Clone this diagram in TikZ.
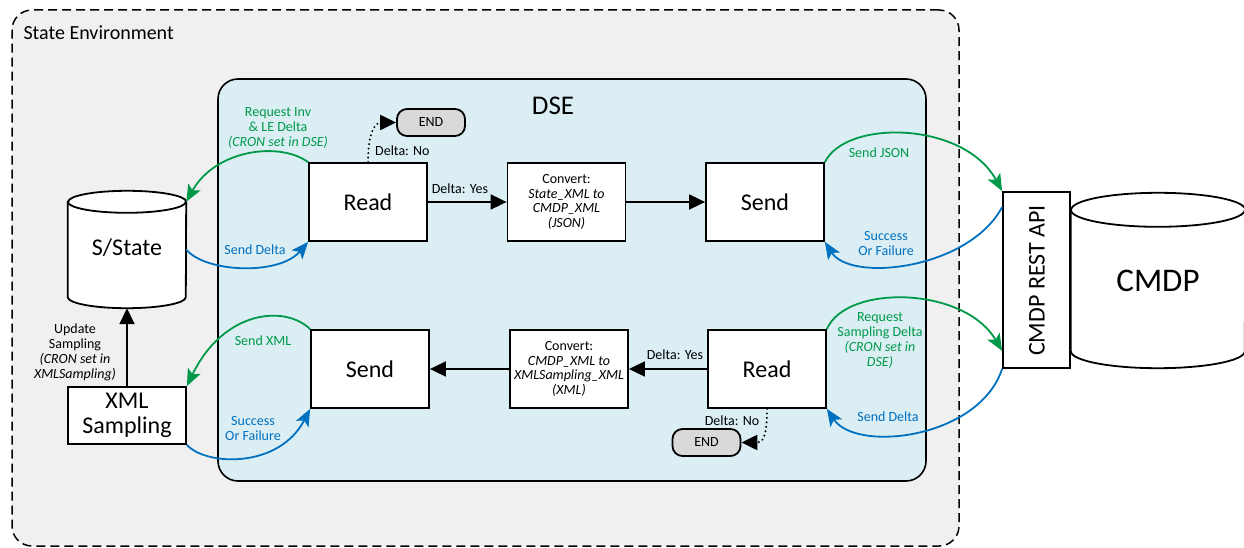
\documentclass[tikz,border=0pt]{standalone}
\usepackage{fontspec}
\setmainfont{Carlito}
\usetikzlibrary{arrows.meta,calc}
\definecolor{envgray}{HTML}{F0F0F0}
\definecolor{dseblue}{HTML}{DAEEF3}
\definecolor{endgray}{HTML}{D9D9D9}
\definecolor{flowgreen}{HTML}{00994A}
\definecolor{flowblue}{HTML}{0070C0}
\tikzset{
  x=1pt, y=1pt,
  envbox/.style={draw, line width=1.5pt, dash pattern=on 9pt off 5pt, fill=envgray,
    rounded corners=20pt, minimum width=947pt, minimum height=536pt, inner sep=0pt},
  dsebox/.style={draw, line width=1.6pt, fill=dseblue, rounded corners=20pt,
    minimum width=708pt, minimum height=402pt, inner sep=0pt},
  procbox/.style={draw, line width=1.8pt, fill=white, minimum width=118pt,
    minimum height=78pt, inner sep=0pt, align=center, font=\fontsize{24}{25}\selectfont},
  convbox/.style={procbox, font=\fontsize{14}{14.5}\selectfont},
  endbox/.style={draw, line width=1.8pt, fill=endgray, rounded corners=10pt,
    minimum width=68pt, minimum height=27pt, inner sep=0pt, font=\fontsize{14}{15}\selectfont},
  cylline/.style={draw, line width=1.8pt},
  flow/.style={line width=1.8pt, -{Triangle[length=16pt,width=15pt]}},
  nopath/.style={line width=2.2pt, dash pattern=on 0pt off 4.5pt, line cap=round,
    -{Triangle[length=16pt,width=15pt]}},
  greenarc/.style={flowgreen, line width=1.8pt, -{Stealth[length=17pt,width=14pt,inset=4pt]}},
  bluearc/.style={flowblue, line width=1.8pt, -{Stealth[length=17pt,width=14pt,inset=4pt]}},
  lbl/.style={font=\fontsize{14}{15}\selectfont, align=center, inner sep=0pt},
  greenlbl/.style={lbl, text=flowgreen},
  bluelbl/.style={lbl, text=flowblue},
}
\begin{document}
\begin{tikzpicture}
\clip (0,0) rectangle (1244,-548);

% containers
\node[envbox] (env) at (485.5,-278) {};
\node[anchor=west, font=\fontsize{20}{22}\selectfont] (envlabel) at (20,-33) {State Environment};
\node[dsebox] (dse) at (572,-280) {};
\node[font=\fontsize{27}{28}\selectfont] (dselabel) at (553,-106) {DSE};

% S/State store
\node[minimum width=118pt, minimum height=117pt, inner sep=0pt] (sstate) at (127,-249.5) {};
\path[cylline, fill=white] ($(sstate.north west)+(0,-11)$) -- ($(sstate.south west)+(0,11)$)
  arc[start angle=180, end angle=360, x radius=59, y radius=11]
  -- ($(sstate.north east)+(0,-11)$)
  arc[start angle=0, end angle=180, x radius=59, y radius=11] -- cycle;
\draw[line width=1.8pt] ($(sstate.north west)+(0,-11)$)
  arc[start angle=180, end angle=360, x radius=59, y radius=11];
\node[font=\fontsize{24}{25}\selectfont] (sstatelabel) at (127,-248) {S/State};

% XML Sampling
\node[procbox, minimum height=57pt] (xmls) at (127,-415.5) {XML\\Sampling};

% CMDP store
\node[minimum width=174pt, minimum height=175pt, inner sep=0pt] (cmdp) at (1158,-280.5) {};
\path[cylline, fill=white] ($(cmdp.north west)+(0,-17)$) -- ($(cmdp.south west)+(0,17)$)
  arc[start angle=180, end angle=360, x radius=87, y radius=17]
  -- ($(cmdp.north east)+(0,-17)$)
  arc[start angle=0, end angle=180, x radius=87, y radius=17] -- cycle;
\draw[line width=1.8pt] ($(cmdp.north west)+(0,-17)$)
  arc[start angle=180, end angle=360, x radius=87, y radius=17];
\node[font=\fontsize{33}{34}\selectfont] (cmdplabel) at (1158,-281) {CMDP};

% CMDP REST API
\node[draw, line width=1.8pt, fill=white, minimum width=67pt, minimum height=176pt, inner sep=0pt]
  (api) at (1036.5,-280) {};
\node[rotate=90, font=\fontsize{24}{25}\selectfont] (apilabel) at (1037,-280.5) {CMDP REST API};

% upper flow
\node[procbox] (read1) at (368,-202) {Read};
\node[convbox] (conv1) at (566.5,-202)
  {Convert:\\\textit{State\_XML to}\\\textit{CMDP\_XML}\\\textit{(JSON)}};
\node[procbox] (send1) at (765,-202) {Send};
\node[endbox] (end1) at (431,-122.5) {END};

% lower flow
\node[procbox] (send2) at (370,-369) {Send};
\node[convbox] (conv2) at (569,-369)
  {Convert:\\\textit{CMDP\_XML to}\\\textit{XMLSampling\_XML}\\\textit{(XML)}};
\node[procbox] (read2) at (767,-369) {Read};
\node[endbox] (end2) at (706.5,-442.5) {END};

% straight connectors
\draw[flow] (read1) -- (conv1);
\draw[flow] (conv1) -- (send1);
\draw[flow] (read2) -- (conv2);
\draw[flow] (conv2) -- (send2);
\draw[flow] (xmls.north) -- (sstate.south);
\draw[nopath] (read1.north) .. controls +(0,32) and +(-20,0) .. (end1.west);
\draw[nopath] (read2.south) .. controls +(0,-32) and +(20,0) .. (end2.east);

% exchanges with S/State and XML Sampling
\draw[greenarc] (read1.north west) .. controls +(-29,21) and +(29,52) .. ($(sstate.north east)+(0,-11)$);
\draw[bluearc] (sstate.east) .. controls +(19,-23) and +(-29,-34) .. (read1.south west);
\draw[greenarc] (send2.north west) .. controls +(-26,25) and +(36,75) .. (xmls.north east);
\draw[bluearc] (xmls.south east) .. controls +(19,-21) and +(-31,-60) .. (send2.south west);

% exchanges with the CMDP REST API
\draw[greenarc] (send1.north east) .. controls +(21,43) and +(-38,70) .. (api.north west);
\draw[bluearc] ($(api.north west)+(0,-16)$) .. controls +(-33,-62) and +(26,-41) .. (send1.south east);
\draw[greenarc] (read2.north east) .. controls +(19,45) and +(-38,65) .. ($(api.south west)+(0,18)$);
\draw[bluearc] (api.south west) .. controls +(-23,-70) and +(29,-44) .. (read2.south east);

% labels
\node[greenlbl] (reqinv) at (278,-128) {Request Inv\\\& LE Delta\\\textit{(CRON set in DSE)}};
\node[bluelbl] (senddelta1) at (255,-250) {Send Delta};
\node[greenlbl] (sendxml) at (263,-341) {Send XML};
\node[bluelbl] (sof1) at (253,-429) {Success\\Or Failure};
\node[lbl] (update) at (75,-352) {Update\\Sampling\\\textit{(CRON set in}\\\textit{XMLSampling)}};
\node[lbl, anchor=west] (deltano1) at (375,-151) {Delta: No};
\node[lbl] (deltayes1) at (460,-189) {Delta: Yes};
\node[lbl] (deltayes2) at (675,-355) {Delta: Yes};
\node[lbl] (deltano2) at (732,-421) {Delta: No};
\node[greenlbl] (sendjson) at (879,-153) {Send JSON};
\node[bluelbl] (sof2) at (886,-243.5) {Success\\Or Failure};
\node[greenlbl] (reqsamp) at (880,-340.5) {Request\\Sampling Delta\\\textit{(CRON set in}\\\textit{DSE)}};
\node[bluelbl] (senddelta2) at (888,-417) {Send Delta};
\end{tikzpicture}
\end{document}
